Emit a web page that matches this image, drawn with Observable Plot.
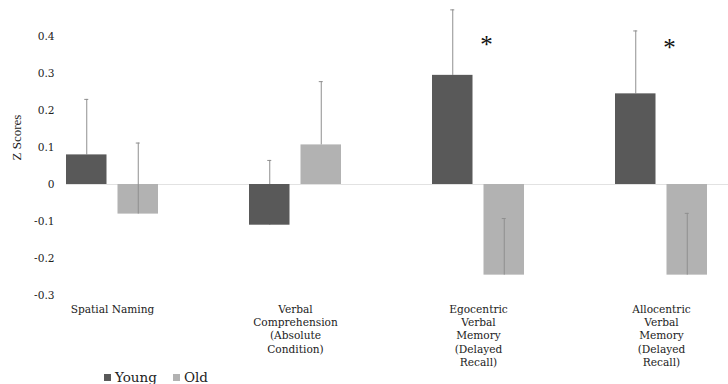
<!DOCTYPE html>
<html>
<head>
<meta charset="utf-8">
<script src="https://cdn.jsdelivr.net/npm/d3@7"></script>
<script src="https://cdn.jsdelivr.net/npm/@observablehq/plot@0.6"></script>
<style>
  html, body { margin: 0; padding: 0; background: #fff; }
  #chart { width: 728px; height: 384px; position: relative; overflow: hidden; }
  #chart svg { position: absolute; left: 0; top: 0; }
  .legend { position: absolute; left: 104px; top: 368px; height: 18px; display: flex; align-items: center;
            font-family: "DejaVu Serif", serif; font-size: 13.5px; color: #222; }
  .legend .sw { width: 7px; height: 7px; display: inline-block; margin-right: 4px; }
  .legend .item { display: flex; align-items: center; margin-right: 16px; }
</style>
</head>
<body>
<div id="chart"></div>
<script>
const categories = [
  "Spatial Naming",
  "Verbal Comprehension (Absolute Condition)",
  "Egocentric Verbal Memory (Delayed Recall)",
  "Allocentric Verbal Memory (Delayed Recall)"
];
const categoryLabels = [
  "Spatial Naming",
  "Verbal\nComprehension\n(Absolute\nCondition)",
  "Egocentric\nVerbal\nMemory\n(Delayed\nRecall)",
  "Allocentric\nVerbal\nMemory\n(Delayed\nRecall)"
];
const groups = ["Young", "Old"];
const youngValues = [0.08, -0.11, 0.295, 0.245];
const oldValues = [-0.08, 0.107, -0.245, -0.245];
const youngErrors = [0.15, 0.175, 0.177, 0.17];
const oldErrors = [0.192, 0.171, 0.153, 0.167];
const significant = ["Egocentric Verbal Memory (Delayed Recall)", "Allocentric Verbal Memory (Delayed Recall)"];
const significanceLevel = [0.395, 0.387];
const yTicks = [-0.3, -0.2, -0.1, 0, 0.1, 0.2, 0.3, 0.4];

const colors = {Young: "#595959", Old: "#b2b2b2"};

const young = categories.map((c, i) => ({category: c, value: youngValues[i], err: youngErrors[i]}));
const old = categories.map((c, i) => ({category: c, value: oldValues[i], err: oldErrors[i]}));
const labels = categories.map((c, i) => ({category: c, label: categoryLabels[i]}));
const stars = significant.map((c, i) => ({category: c, y: significanceLevel[i]}));

const off = 25.75;
const errColor = "#8f8f8f";

const chart = Plot.plot({
  width: 728,
  height: 384,
  marginLeft: 66,
  marginRight: 0,
  marginTop: 0,
  marginBottom: 84,
  style: {fontFamily: "DejaVu Serif, serif", fontSize: "10.6px", color: "#222", background: "transparent"},
  x: {domain: categories, range: [20, 752.5], paddingInner: 0.495, paddingOuter: 0.2475, axis: null},
  y: {domain: [-0.3, 0.4], range: [295, 36], axis: null},
  marks: [
    Plot.ruleY([0], {stroke: "#e2e2e2", strokeWidth: 1}),
    Plot.axisY({ticks: yTicks, tickSize: 0, tickPadding: 12, tickFormat: d => d === 0 ? "0" : d.toFixed(1), label: null, fontSize: 10.6}),
    // Young error bars (behind bars)
    Plot.ruleX(young, {x: "category", y1: "value", y2: d => d.value + d.err, dx: -off, stroke: errColor, strokeWidth: 1}),
    Plot.tickY(young, {x: "category", y: d => d.value + d.err, dx: -off, inset: 44, stroke: errColor, strokeWidth: 1}),
    Plot.barY(young, {x: "category", y: "value", fill: colors.Young, insetRight: 51.5}),
    Plot.barY(old, {x: "category", y: "value", fill: colors.Old, insetLeft: 51.5}),
    // Old error bars (on top of bars)
    Plot.ruleX(old, {x: "category", y1: "value", y2: d => d.value + d.err, dx: off, stroke: errColor, strokeWidth: 1}),
    Plot.tickY(old, {x: "category", y: d => d.value + d.err, dx: off, inset: 44, stroke: errColor, strokeWidth: 1}),
    Plot.text(stars, {x: "category", y: "y", text: () => "*", dx: 8, dy: 7, fontSize: 25, fontFamily: "Liberation Serif, serif", fill: "#111"}),
    Plot.text(labels, {x: "category", text: "label", frameAnchor: "bottom", lineAnchor: "top", dy: 3, lineHeight: 1.25, fontSize: 10.6, fill: "#222"}),
    Plot.text(["Z Scores"], {frameAnchor: "left", rotate: -90, dx: -50, dy: 10, fontSize: 13, fontFamily: "Liberation Serif, serif", fill: "#222"})
  ]
});

const root = document.getElementById("chart");
root.appendChild(chart);
const legend = document.createElement("div");
legend.className = "legend";
legend.innerHTML = groups.map(g => `<span class="item"><span class="sw" style="background:${colors[g]}"></span>${g}</span>`).join("");
root.appendChild(legend);
</script>
</body>
</html>
